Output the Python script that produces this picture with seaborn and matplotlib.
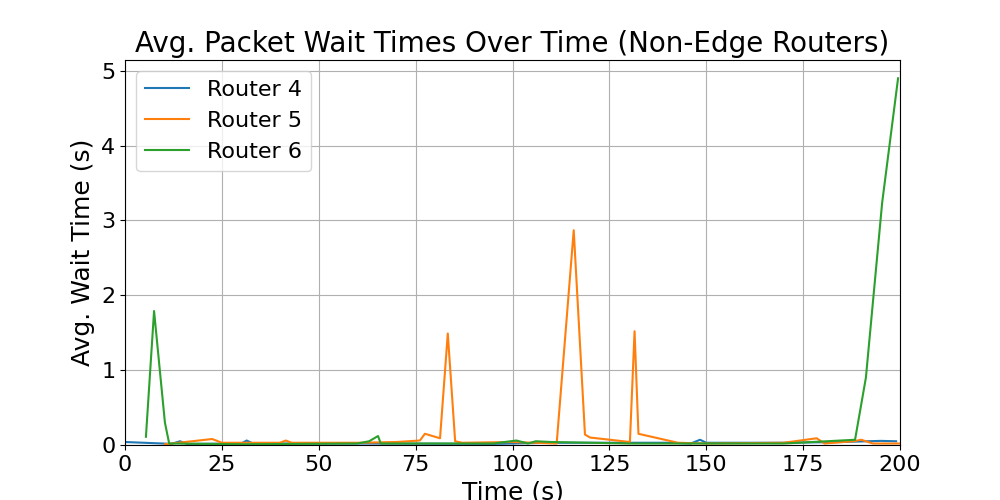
import pandas as pd
import matplotlib
matplotlib.use("Agg")
import matplotlib.pyplot as plt
import seaborn as sns

# tiempos y valores
r4_time = [0, 12, 14.2, 16, 30, 31.4, 33, 60, 95, 110, 140, 146, 148.4, 150, 170, 185, 195, 199]
r4_wait = [0.04, 0.015, 0.05, 0.015, 0.02, 0.06, 0.02, 0.02, 0.015, 0.03, 0.03, 0.02, 0.07, 0.03, 0.03, 0.04, 0.055, 0.05]

r5_time = [10.3, 22.5, 25, 40, 41.5, 43, 60, 70, 76.1, 77.4, 81.3, 83.3, 85.2, 87, 100, 111.4,
           115.8, 118.7, 120, 130.3, 131.5, 132.5, 142.7, 150, 170, 178.5, 180.5, 188, 190, 193, 200]
r5_wait = [0.01, 0.08, 0.03, 0.03, 0.06, 0.03, 0.03, 0.04, 0.06, 0.15, 0.09, 1.49, 0.05, 0.03, 0.04, 0.02,
           2.87, 0.14, 0.1, 0.04, 1.52, 0.15, 0.03, 0.02, 0.03, 0.09, 0.02, 0.05, 0.07, 0.02, 0.02]

r6_time = [5.4, 7.5, 10.3, 11.4, 30, 60, 63, 65.3, 66, 95, 101, 104, 106, 110, 130, 160, 170,
           188.4, 191.2, 195.4, 199.5]
r6_wait = [0.11, 1.79, 0.3, 0.02, 0.01, 0.02, 0.05, 0.12, 0.02, 0.02, 0.06, 0.02, 0.05, 0.04, 0.02,
           0.02, 0.02, 0.07, 0.9, 3.24, 4.9]

routers = ["Router 4", "Router 5", "Router 6"]

df = pd.concat([
    pd.DataFrame({"time": r4_time, "wait": r4_wait, "router": routers[0]}),
    pd.DataFrame({"time": r5_time, "wait": r5_wait, "router": routers[1]}),
    pd.DataFrame({"time": r6_time, "wait": r6_wait, "router": routers[2]}),
])

fig, ax = plt.subplots(figsize=(10, 5), dpi=100)
sns.lineplot(data=df, x="time", y="wait", hue="router", hue_order=routers,
             palette=["#1f77b4", "#ff7f0e", "#2ca02c"], estimator=None, sort=True, ax=ax)

ax.set_title("Avg. Packet Wait Times Over Time (Non-Edge Routers)", fontsize=20)
ax.set_xlabel("Time (s)", fontsize=18)
ax.set_ylabel("Avg. Wait Time (s)", fontsize=18)
ax.tick_params(labelsize=16)
ax.set_xlim(0, 200)
ax.set_ylim(bottom=0)
ax.grid(True)
ax.legend(title=None, fontsize=16, loc="upper left")

fig.savefig("out.png")
